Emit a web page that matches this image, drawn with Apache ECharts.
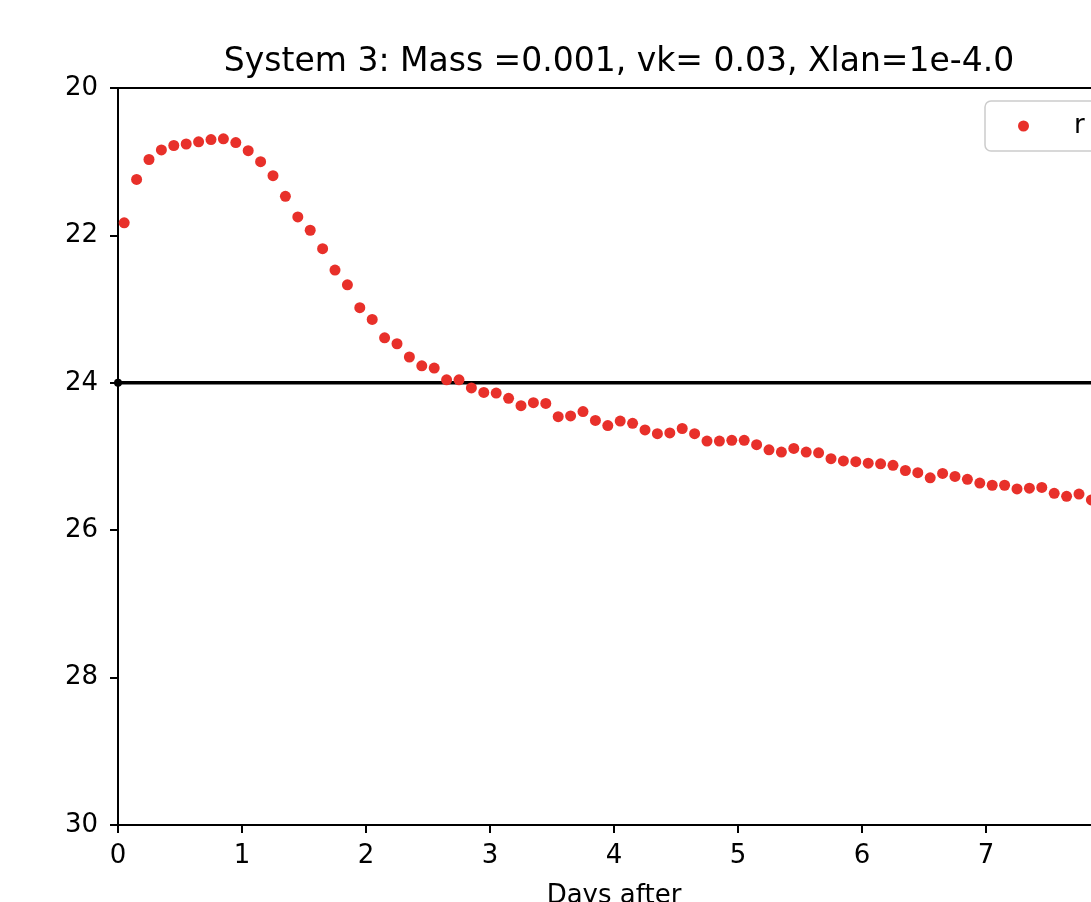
<!DOCTYPE html>
<html>
<head>
<meta charset="utf-8">
<script src="https://cdn.jsdelivr.net/npm/echarts@6/dist/echarts.min.js"></script>
<style>
html,body{margin:0;padding:0;background:#fff;}
#chart{width:1091px;height:902px;}
</style>
</head>
<body>
<div id="chart"></div>
<script>
var titleText = 'System 3: Mass =0.001, vk= 0.03, Xlan=1e-4.0';
var xAxisName = 'Days after';
var seriesName = 'r';

var days = [0.05,0.15,0.25,0.35,0.45,0.55,0.65,0.75,0.85,0.95,
            1.05,1.15,1.25,1.35,1.45,1.55,1.65,1.75,1.85,1.95,
            2.05,2.15,2.25,2.35,2.45,2.55,2.65,2.75,2.85,2.95,
            3.05,3.15,3.25,3.35,3.45,3.55,3.65,3.75,3.85,3.95,
            4.05,4.15,4.25,4.35,4.45,4.55,4.65,4.75,4.85,4.95,
            5.05,5.15,5.25,5.35,5.45,5.55,5.65,5.75,5.85,5.95,
            6.05,6.15,6.25,6.35,6.45,6.55,6.65,6.75,6.85,6.95,
            7.05,7.15,7.25,7.35,7.45,7.55,7.65,7.75,7.85];
var mags = [21.83,21.24,20.97,20.84,20.78,20.76,20.73,20.70,20.69,20.74,
            20.85,21.00,21.19,21.47,21.75,21.93,22.18,22.47,22.67,22.98,
            23.14,23.39,23.47,23.65,23.77,23.80,23.96,23.96,24.07,24.13,
            24.14,24.21,24.31,24.27,24.28,24.46,24.45,24.39,24.51,24.58,
            24.52,24.55,24.64,24.69,24.68,24.62,24.69,24.79,24.79,24.78,
            24.78,24.84,24.91,24.94,24.89,24.94,24.95,25.03,25.06,25.07,
            25.09,25.10,25.12,25.19,25.22,25.29,25.23,25.27,25.31,25.36,
            25.39,25.39,25.44,25.43,25.42,25.50,25.54,25.51,25.59];

var limitDays = [0, 8];
var limitMags = [24, 24];

var xTicks = [0,1,2,3,4,5,6,7,8];
var yTicks = [20,22,24,26,28,30];

var font = 'DejaVu Sans';
var chart = echarts.init(document.getElementById('chart'), null, {renderer:'canvas'});

var pts = days.map(function(d,i){return [d, mags[i]];});
var lim = limitDays.map(function(d,i){return [d, limitMags[i]];});

chart.setOption({
  animation:false,
  backgroundColor:'#fff',
  title:{
    text:titleText,
    left:614, top:41, textAlign:'center',
    textStyle:{fontFamily:font,fontSize:33,fontWeight:'normal',color:'#000'}
  },
  legend:{
    data:[{name:seriesName, icon:'circle'}],
    left:985, top:101,
    itemWidth:11, itemHeight:11,
    padding:[12,30,12,33],
    borderColor:'#cccccc', borderWidth:1.5, borderRadius:6,
    backgroundColor:'#fff',
    textStyle:{fontFamily:font,fontSize:26,color:'#000',padding:[0,0,0,40]}
  },
  grid:{
    left:118, top:88, width:992, bottom:77,
    outerBoundsMode:'none', containLabel:false,
    show:true, borderColor:'#000', borderWidth:2, backgroundColor:'#fff'
  },
  xAxis:{
    type:'value', min:0, max:8, interval:1,
    name:xAxisName, nameLocation:'middle', nameGap:58,
    nameTextStyle:{fontFamily:font,fontSize:26,color:'#000'},
    axisLine:{show:true,onZero:false,lineStyle:{color:'#000',width:2}},
    axisTick:{show:true,length:8,lineStyle:{color:'#000',width:2}},
    axisLabel:{fontFamily:font,fontSize:26,color:'#000',margin:18,
      formatter:function(v){return xTicks.indexOf(v)>=0?String(v):'';}},
    splitLine:{show:false}
  },
  yAxis:{
    type:'value', min:20, max:30, interval:2, inverse:true,
    axisLine:{show:true,onZero:false,lineStyle:{color:'#000',width:2}},
    axisTick:{show:true,length:8,lineStyle:{color:'#000',width:2}},
    axisLabel:{fontFamily:font,fontSize:26,color:'#000',margin:20,
      formatter:function(v){return yTicks.indexOf(v)>=0?String(v):'';}},
    splitLine:{show:false}
  },
  series:[
    {
      name:'limit', type:'line', data:lim,
      symbol:'circle', symbolSize:8, showSymbol:true,
      lineStyle:{color:'#000',width:3.5},
      itemStyle:{color:'#000'},
      z:2, silent:true
    },
    {
      name:seriesName, type:'scatter', data:pts,
      symbol:'circle', symbolSize:11,
      itemStyle:{color:'#e8302a',opacity:1},
      z:3
    }
  ]
});
</script>
</body>
</html>
